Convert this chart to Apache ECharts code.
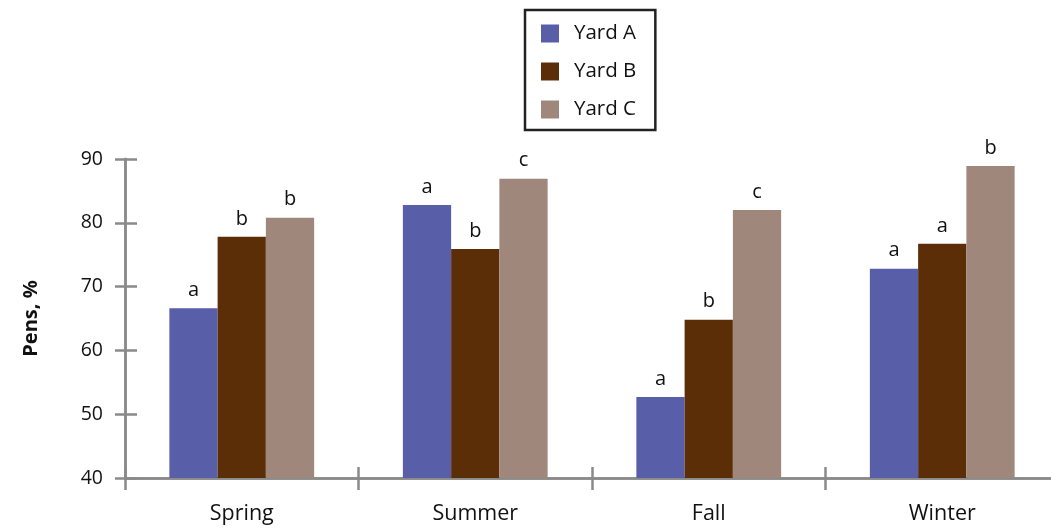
<!DOCTYPE html>
<html>
<head>
<meta charset="utf-8">
<script src="https://cdn.jsdelivr.net/npm/echarts@6/dist/echarts.min.js"></script>
<style>html,body{margin:0;padding:0;background:#fff}#c{width:1051px;height:529px}</style>
</head>
<body>
<div id="c"></div>
<script>
const categories = ['Spring', 'Summer', 'Fall', 'Winter'];
const yardA = [66.6, 82.8, 52.7, 72.8];
const yardB = [77.8, 75.9, 64.8, 76.7];
const yardC = [80.8, 86.9, 82.0, 88.9];
const lettersA = ['a', 'a', 'a', 'a'];
const lettersB = ['b', 'b', 'b', 'a'];
const lettersC = ['b', 'c', 'c', 'b'];
const yTicks = [40, 50, 60, 70, 80, 90];

const FONT = '"Open Sans", "Noto Sans", sans-serif';
const axisColor = '#8a8a8a';

function mkSeries(name, data, letters, color) {
  return {
    name: name, type: 'bar', data: data, xAxisIndex: 0, yAxisIndex: 0,
    barGap: '0%', barCategoryGap: '38%',
    itemStyle: { color: color },
    label: {
      show: true, position: 'top', distance: 8,
      formatter: p => letters[p.dataIndex],
      fontFamily: FONT, fontSize: 20, color: '#111'
    }
  };
}

const chart = echarts.init(document.getElementById('c'));
chart.setOption({
  animation: false,
  backgroundColor: '#fff',
  grid: { left: 125, top: 159, width: 934, height: 319, containLabel: false, outerBoundsMode: 'none' },
  legend: {
    orient: 'vertical', left: 525, top: 10,
    padding: [13, 19, 10, 16],
    borderColor: '#222', borderWidth: 2.5, borderRadius: 0,
    itemWidth: 18, itemHeight: 18, itemGap: 17,
    icon: 'rect',
    textStyle: { fontFamily: FONT, fontSize: 20.5, color: '#111', padding: [0, 0, 0, 10] },
    data: ['Yard A', 'Yard B', 'Yard C']
  },
  xAxis: [
    {
      type: 'category', data: categories, position: 'bottom',
      axisLine: { lineStyle: { color: axisColor, width: 2.5 } },
      axisTick: { show: true, length: 12, lineStyle: { color: axisColor, width: 2.5 } },
      axisLabel: { fontFamily: FONT, fontSize: 21.5, color: '#111', margin: 25 }
    },
    {
      type: 'category', data: categories, position: 'bottom', offset: 0,
      axisLine: { show: true, lineStyle: { color: axisColor, width: 2.5 } },
      axisTick: { show: true, inside: true, length: 11, lineStyle: { color: axisColor, width: 2.5 } },
      axisLabel: { show: false }
    }
  ],
  yAxis: [
    {
      type: 'value', min: 40, max: 90, interval: 10,
      name: 'Pens, %', nameLocation: 'middle', nameGap: 84, nameRotate: 90,
      nameTextStyle: { fontFamily: FONT, fontSize: 20, fontWeight: 'bold', color: '#111' },
      axisLine: { show: true, lineStyle: { color: axisColor, width: 2.5 } },
      axisTick: { show: true, length: 10, lineStyle: { color: axisColor, width: 2.5 } },
      axisLabel: { fontFamily: FONT, fontSize: 19.5, color: '#111', margin: 22,
        formatter: v => yTicks.includes(v) ? String(v) : '' },
      splitLine: { show: false }
    },
    {
      type: 'value', min: 40, max: 90, interval: 10, position: 'left', offset: 0,
      axisLine: { show: true, lineStyle: { color: axisColor, width: 2.5 } },
      axisTick: { show: true, inside: true, length: 12, lineStyle: { color: axisColor, width: 2.5 } },
      axisLabel: { show: false },
      splitLine: { show: false }
    }
  ],
  series: [
    mkSeries('Yard A', yardA, lettersA, '#585ea8'),
    mkSeries('Yard B', yardB, lettersB, '#5b2e08'),
    mkSeries('Yard C', yardC, lettersC, '#9f877c')
  ]
});
</script>
</body>
</html>
